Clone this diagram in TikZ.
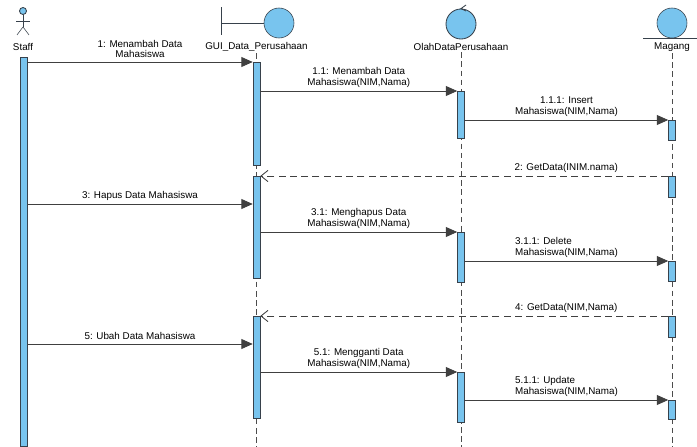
\documentclass[tikz,border=0pt]{standalone}
\usepackage{fontspec}
\setmainfont{Liberation Sans}
\usetikzlibrary{shapes,arrows.meta}
\definecolor{lifeblue}{RGB}{120,196,238}
\definecolor{edgegray}{RGB}{55,65,75}
\tikzstyle{iconcircle} = [circle, draw=edgegray, fill=lifeblue, 
    minimum size=0.75cm, inner sep=0pt]
\tikzstyle{act} = [rectangle, draw=edgegray, fill=lifeblue, 
    minimum width=0.175cm, inner sep=0pt, anchor=north]
\tikzstyle{lifename} = [font=\fontsize{7}{7.2}\selectfont, inner sep=1pt]
\tikzstyle{lifeline} = [draw=black!70, dash pattern=on 4pt off 2.5pt]
\tikzstyle{call} = [draw=black!75, line width=0.6pt, -{Triangle[length=8pt,width=7pt]}]
\tikzstyle{reply} = [draw=black!75, line width=0.6pt, dash pattern=on 5pt off 3pt,
    -{Straight Barb[length=5pt,width=8pt]}]
\tikzstyle{msg} = [font=\fontsize{7}{7.2}\selectfont, align=center, inner sep=2.5pt]

\begin{document}
\begin{tikzpicture}[x=0.025cm, y=-0.025cm]
\useasboundingbox (0,0) rectangle (697,447);
\coordinate (bottom) at (0,447);

    % Place nodes
\node[lifename] (staff) at (23,47) {Staff};
\node[lifename] (gui) at (256.5,47) {GUI\_Data\_Perusahaan};
\node[lifename] (olah) at (461,47) {OlahDataPerusahaan};
\node[lifename] (magang) at (672,47) {Magang};

\node[iconcircle, minimum size=0.175cm, line width=0.6pt] (staffhead) at (23,11) {};
\node[iconcircle] (guiicon) at (279,23) {};
\node[iconcircle, line width=0.6pt] (olahicon) at (461,24) {};
\node[iconcircle] (magicon) at (672,23) {};

    % Draw icons
\draw[edgegray] (staffhead.south) -- ++(0,12) coordinate (hip);
\draw[edgegray] (16,21) -- (30,21);
\draw[edgegray] (hip) -- ++(-6,8) (hip) -- ++(6,8);
\draw[edgegray] (221,7) -- (221,35);
\draw[edgegray] (221,23) -- (guiicon.west);
\draw[edgegray, line width=0.6pt] (466,5) -- (olahicon.north) -- (466,11);
\draw[edgegray] (643,38) -- (697,38);

    % Lifelines
\draw[lifeline] (gui.south) -- (gui.south |- bottom);
\draw[lifeline] (olah.south) -- (olah.south |- bottom);
\draw[lifeline] (magang.south) -- (magang.south |- bottom);

    % Activations
\node[act, minimum height=9.725cm] (s1) at (23.5,57) {};
\node[act, minimum height=2.575cm] (g1) at (256.5,62) {};
\node[act, minimum height=2.55cm] (g2) at (256.5,176) {};
\node[act, minimum height=2.55cm] (g3) at (256.5,316) {};
\node[act, minimum height=1.175cm] (o1) at (461,91) {};
\node[act, minimum height=1.25cm] (o2) at (461,232) {};
\node[act, minimum height=1.25cm] (o3) at (461,372) {};
\node[act, minimum height=0.5cm] (m1) at (672,120) {};
\node[act, minimum height=0.525cm] (m2) at (672,176) {};
\node[act, minimum height=0.5cm] (m3) at (672,261) {};
\node[act, minimum height=0.525cm] (m4) at (672,316) {};
\node[act, minimum height=0.475cm] (m5) at (672,400) {};

    % Draw edges
\path[call] (s1.east |- g1.north) -- node[msg, above] {1: Menambah Data\\Mahasiswa} (g1.north west);
\path[call] (g1.east |- o1.north) -- node[msg, above] {1.1: Menambah Data\\Mahasiswa(NIM,Nama)} (o1.north west);
\path[call] (o1.east |- m1.north) -- node[msg, above] {1.1.1: Insert\\Mahasiswa(NIM,Nama)} (m1.north west);
\path[reply] (m2.north west) -- node[msg, above, near start] {2: GetData(INIM.nama)} (g2.north east);
\path[call] (s1.east |- 0,204) -- node[msg, above] {3: Hapus Data Mahasiswa} (g2.west |- 0,204);
\path[call] (g2.east |- o2.north) -- node[msg, above] {3.1: Menghapus Data\\Mahasiswa(NIM,Nama)} (o2.north west);
\path[call] (o2.east |- m3.north) -- node[msg, above, align=left] {3.1.1: Delete\\ Mahasiswa(NIM,Nama)} (m3.north west);
\path[reply] (m4.north west) -- node[msg, above, near start] {4: GetData(NIM,Nama)} (g3.north east);
\path[call] (s1.east |- 0,344) -- node[msg, above] {5: Ubah Data Mahasiswa} (g3.west |- 0,344);
\path[call] (g3.east |- o3.north) -- node[msg, above] {5.1: Mengganti Data\\Mahasiswa(NIM,Nama)} (o3.north west);
\path[call] (o3.east |- m5.north) -- node[msg, above, align=left] {5.1.1: Update\\ Mahasiswa(NIM,Nama)} (m5.north west);

\end{tikzpicture}
\end{document}
